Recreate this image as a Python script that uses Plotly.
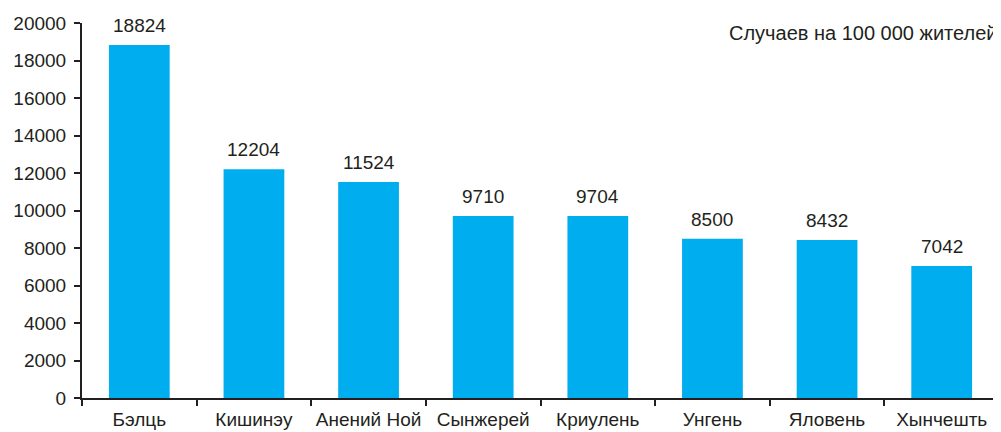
import plotly.graph_objects as go

categories = ["Бэлць", "Кишинэу", "Анений Ной", "Сынжерей", "Криулень", "Унгень", "Яловень", "Хынчешть"]
values = [18824, 12204, 11524, 9710, 9704, 8500, 8432, 7042]
y_ticks = list(range(0, 20001, 2000))
y_tick_labels = [str(v) for v in y_ticks]
note = "Случаев на 100 000 жителей"

TEXT = "#231f20"
FONT = "Liberation Sans, Arial, sans-serif"
FS = 19

fig = go.Figure()
fig.add_trace(go.Bar(x=categories, y=values, marker=dict(color="#00aeef", line=dict(width=0)),
                     hoverinfo="x+y"))

for c, v in zip(categories, values):
    fig.add_annotation(x=c, y=v, text=str(v), showarrow=False, yanchor="bottom",
                       yshift=7, font=dict(size=FS, color=TEXT, family=FONT))

fig.add_annotation(xref="paper", yref="paper", x=1, y=1, xanchor="right", yanchor="middle",
                   yshift=-10, xshift=0, text=note, showarrow=False,
                   font=dict(size=20, color=TEXT, family=FONT))

fig.update_layout(
    width=993, height=424,
    margin=dict(l=74, r=2, t=15, b=34),
    paper_bgcolor="white", plot_bgcolor="white",
    bargap=0.47, showlegend=False,
    font=dict(family=FONT, size=FS, color=TEXT),
    xaxis=dict(showline=True, linecolor=TEXT, linewidth=2, ticks="outside", tickson="boundaries",
               ticklen=6, tickwidth=1.5, tickcolor=TEXT, showgrid=False, automargin=False,
               tickangle=0, ticklabelstandoff=3, tickfont=dict(size=FS, color=TEXT)),
    yaxis=dict(range=[0, 20000], tickvals=y_ticks, ticktext=y_tick_labels, showline=True,
               linecolor=TEXT, linewidth=2, automargin=False, ticklabelstandoff=4,
               ticks="outside", ticklen=6, tickwidth=1.5, tickcolor=TEXT, showgrid=False,
               zeroline=False, tickfont=dict(size=FS, color=TEXT)),
)

fig.write_html("out.html")
